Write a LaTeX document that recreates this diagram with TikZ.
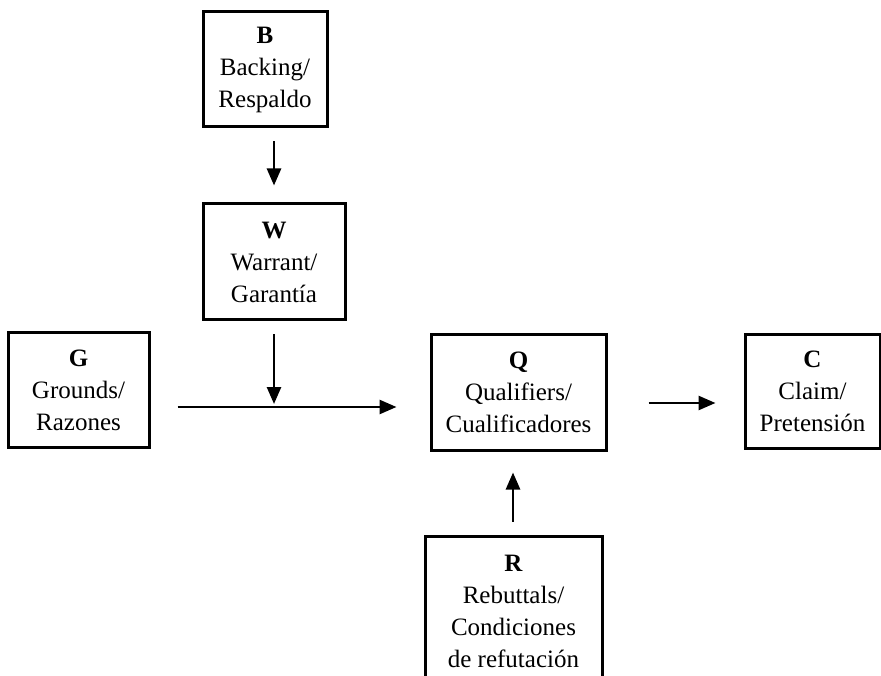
\documentclass[tikz,border=0pt]{standalone}
\usepackage{fontspec}
\setmainfont{Liberation Serif}
\usetikzlibrary{arrows.meta,calc}
\begin{document}
\begin{tikzpicture}[x=1pt,y=-1pt,
  box/.style={draw,line width=3pt,rectangle,inner sep=0pt,align=center,
    font=\fontsize{25}{32}\selectfont},
  arr/.style={line width=2.6pt,-{Triangle[length=17pt,width=14pt]}}]
\useasboundingbox (0,0) rectangle (881,676);
\clip (0,0) rectangle (881,676);
\node[box,minimum width=124pt,minimum height=115pt] (B) at (265,69.5) {\textbf{B}\\Backing/\\Respaldo};
\node[box,minimum width=142pt,minimum height=116pt] (W) at (274,262) {\textbf{W}\\Warrant/\\Garantía};
\node[box,minimum width=141pt,minimum height=114pt] (G) at (78.5,390) {\textbf{G}\\Grounds/\\Razones};
\node[box,minimum width=175pt,minimum height=115pt] (Q) at (518.5,392.5) {\textbf{Q}\\Qualifiers/\\Cualificadores};
\node[box,minimum width=135pt,minimum height=113pt] (C) at (812.5,391.5) {\textbf{C}\\Claim/\\Pretensión};
\node[box,minimum width=177pt,minimum height=150pt] (R) at (513.5,611) {\textbf{R}\\Rebuttals/\\Condiciones\\de refutación};
\coordinate (J) at (W.south |- 0,407);
\draw[arr,shorten <=13pt,shorten >=17pt] (W.north |- B.south) -- (W.north);
\draw[arr,shorten <=13pt,shorten >=3pt] (W.south) -- (J);
\draw[arr,shorten <=27pt,shorten >=33pt] (G.east |- J) -- (Q.west |- J);
\draw[arr,shorten <=41pt,shorten >=28pt] (Q.east |- 0,403) -- (C.west |- 0,403);
\draw[arr,shorten <=13pt,shorten >=21pt] (R.north -| 513,0) -- (Q.south -| 513,0);
\end{tikzpicture}
\end{document}
